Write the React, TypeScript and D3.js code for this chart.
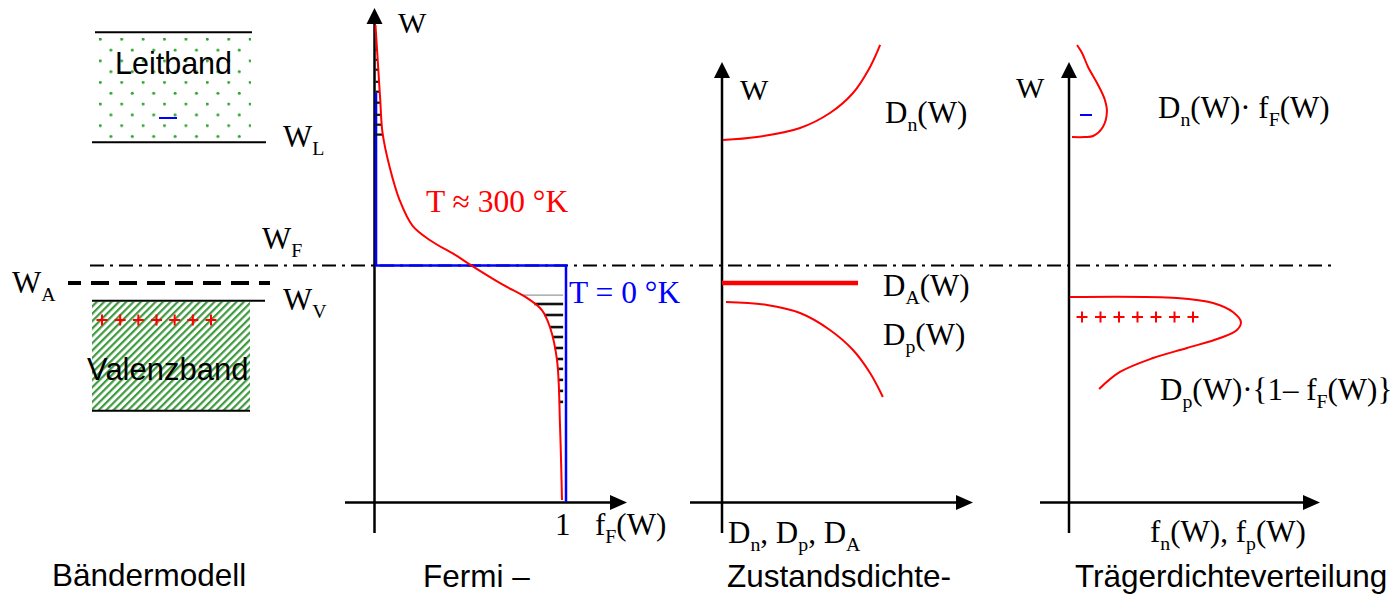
import React from "react";
import * as d3 from "d3";

const SERIF = "'Liberation Serif', 'Times New Roman', serif";
const SANS = "'Liberation Sans', Arial, sans-serif";

// Energy levels (arbitrary units, Fermi level W_F = 0)
const conductionBand = [2.12, 1.12]; // upper drawn edge, W_L
const valenceBand = [-0.32, -1.32]; // W_V, lower drawn edge
const fermiLevel = 0;
const acceptorLevel = -0.16;

// Fermi–Dirac distribution at T ≈ 300 K: [f, W]
const fermi300: [number, number][] = [
  [0.005, 2.186], [0.019, 1.805], [0.03, 1.505], [0.042, 1.205], [0.079, 0.895],
  [0.131, 0.595], [0.199, 0.36], [0.29, 0.23], [0.43, 0.087], [0.497, 0.01],
  [0.665, -0.17], [0.796, -0.295], [0.874, -0.405], [0.916, -0.559],
  [0.953, -0.859], [0.969, -1.468], [0.979, -2.132],
];
// Step function at T = 0 K: [f, W]
const fermi0: [number, number][] = [[0.008, 1.57], [0.008, 0], [1, 0], [1, -2.15]];
// Occupied states above W_F and empty states below W_F (hatching levels)
const electronHatchW = [2.05, 1.96, 1.87, 1.78, 1.67, 1.58, 1.48, 1.37, 1.28, 1.19];
const holeHatchW = [-0.27, -0.35, -0.45, -0.56, -0.65, -0.75, -0.85, -0.94, -1.04, -1.14, -1.24];

// Density of states: [D, W]
const densityN: [number, number][] = [
  [0.4, 1.141], [13.9, 1.168], [31.1, 1.25], [43, 1.386], [52.2, 1.568], [59, 1.805], [63, 2.005],
];
const densityP: [number, number][] = [
  [1.6, -0.332], [17.9, -0.359], [31.1, -0.432], [43, -0.586], [52.2, -0.768], [59, -0.977], [64.1, -1.195],
];
const densityA: [number, number][] = [[0, -0.16], [54.2, -0.16]];

// Carrier distributions: [f, W]
const carriersN: [number, number][] = [
  [1.2, 1.168], [6.4, 1.168], [9.6, 1.177], [13.5, 1.259], [15.1, 1.395], [14.3, 1.505],
  [11.6, 1.641], [7.6, 1.805], [5.2, 1.932], [3.2, 2.005],
];
const carriersP: [number, number][] = [
  [0.4, -0.286], [43, -0.295], [57.4, -0.341], [65.3, -0.423], [68.5, -0.514], [66.9, -0.586],
  [60.2, -0.659], [47, -0.75], [33.5, -0.841], [20.3, -0.968], [12, -1.123],
];

const bottomTitles = ["Bändermodell", "Fermi –", "Zustandsdichte-", "Trägerdichteverteilung"];
const holeCount = 7;

const yW = d3.scaleLinear().domain([-2.5, 2.5]).range([540.5, -9.5]);
const xBand = d3.scaleLinear().domain([0, 1]).range([92, 265]);
const xF = d3.scaleLinear().domain([0, 1]).range([374.5, 566]);
const xD = d3.scaleLinear().domain([0, 100]).range([722, 973]);
const xC = d3.scaleLinear().domain([0, 100]).range([1069, 1320]);

const fOfW = d3.scaleLinear().domain(fermi300.map((d) => d[1])).range(fermi300.map((d) => d[0]));

type Part = [string, boolean?];

function Label({ x, y, parts, size = 31, fill = "#000", family = SERIF }: {
  x: number; y: number; parts: Part[]; size?: number; fill?: string; family?: string;
}) {
  let sub = false;
  return (
    <text x={x} y={y} fontFamily={family} fontSize={size} fill={fill} style={{ whiteSpace: "pre" }}>
      {parts.map(([t, s], i) => {
        let dy = 0;
        if (s && !sub) dy = size * 0.26;
        else if (!s && sub) dy = -size * 0.26;
        sub = !!s;
        return (
          <tspan key={i} dy={dy} fontSize={s ? size * 0.64 : size}>
            {t}
          </tspan>
        );
      })}
    </text>
  );
}

function ArrowUp({ x, y }: { x: number; y: number }) {
  return <path d={`M${x},${y} L${x - 8},${y + 16} L${x + 8},${y + 16} Z`} fill="#000" />;
}
function ArrowRight({ x, y }: { x: number; y: number }) {
  return <path d={`M${x},${y} L${x - 17},${y - 7.5} L${x - 17},${y + 7.5} Z`} fill="#000" />;
}

function Plus({ x, y }: { x: number; y: number }) {
  return <path d={`M${x - 5.5},${y} H${x + 5.5} M${x},${y - 5.5} V${y + 5.5}`} stroke="#f00" strokeWidth={2} />;
}

export default function App() {
  const lineF = d3.line<[number, number]>().x((d) => xF(d[0])).y((d) => yW(d[1])).curve(d3.curveCatmullRom.alpha(0.5));
  const lineF0 = d3.line<[number, number]>().x((d) => xF(d[0])).y((d) => yW(d[1]));
  const lineD = d3.line<[number, number]>().x((d) => xD(d[0])).y((d) => yW(d[1])).curve(d3.curveCatmullRom.alpha(0.5));
  const lineC = d3.line<[number, number]>().x((d) => xC(d[0])).y((d) => yW(d[1])).curve(d3.curveCatmullRom.alpha(0.5));

  const axisY = 502.5;
  const axisBottom = 533;
  const plusBand = d3.scalePoint<number>().domain(d3.range(holeCount)).range([102, 211]);
  const plusCarrier = d3.scalePoint<number>().domain(d3.range(holeCount)).range([1082, 1193]);

  return (
    <svg width={1398} height={595} style={{ position: "absolute", left: 0, top: 0, background: "#fff" }}>
      <defs>
        <pattern id="cbDots" patternUnits="userSpaceOnUse" x={99} y={38} width={21.4} height={21.6}>
          <circle cx={1.2} cy={1.2} r={1.5} fill="#2f9f2f" />
          <circle cx={11.9} cy={12} r={1.5} fill="#2f9f2f" />
        </pattern>
        <pattern id="vbHatch" patternUnits="userSpaceOnUse" width={5.2} height={5.2} patternTransform="rotate(45)">
          <rect x={0} y={0} width={2.2} height={5.2} fill="#3f9a3f" />
        </pattern>
      </defs>

      {/* Band model */}
      <rect x={97} y={yW(conductionBand[0]) + 2} width={154} height={yW(conductionBand[1]) - yW(conductionBand[0]) - 4} fill="url(#cbDots)" />
      <rect x={xBand(0)} y={yW(valenceBand[0]) + 1} width={158} height={yW(valenceBand[1]) - yW(valenceBand[0]) - 1} fill="url(#vbHatch)" />
      <line x1={95} x2={252} y1={yW(conductionBand[0])} y2={yW(conductionBand[0])} stroke="#000" strokeWidth={2} />
      <line x1={92} x2={266} y1={yW(conductionBand[1])} y2={yW(conductionBand[1])} stroke="#000" strokeWidth={2} />
      <line x1={92} x2={265} y1={yW(valenceBand[0])} y2={yW(valenceBand[0])} stroke="#000" strokeWidth={2} />
      <line x1={92} x2={250} y1={yW(valenceBand[1])} y2={yW(valenceBand[1])} stroke="#000" strokeWidth={2} />
      <line x1={68} x2={270} y1={yW(acceptorLevel)} y2={yW(acceptorLevel)} stroke="#000" strokeWidth={4} strokeDasharray="18 10" strokeDashoffset={5} />
      <text x={115} y={74} fontFamily={SANS} fontSize={30.5} fill="#000">Leitband</text>
      <line x1={159} x2={177} y1={118} y2={118} stroke="#00f" strokeWidth={2} />
      {d3.range(holeCount).map((i) => (
        <Plus key={i} x={plusBand(i)!} y={320} />
      ))}
      <text x={87} y={380} fontFamily={SANS} fontSize={31} fill="#000">Valenzband</text>
      <Label x={283} y={147} parts={[["W"], ["L", true]]} />
      <Label x={262} y={249} parts={[["W"], ["F", true]]} />
      <Label x={12} y={293} parts={[["W"], ["A", true]]} />
      <Label x={283} y={310} parts={[["W"], ["V", true]]} />

      {/* Fermi level across all panels */}
      <line x1={90} x2={1336} y1={yW(fermiLevel)} y2={yW(fermiLevel)} stroke="#000" strokeWidth={2} strokeDasharray="14 6 3 6" />

      {/* Fermi distribution */}
      <line x1={xF(0)} x2={xF(0)} y1={axisBottom} y2={20} stroke="#000" strokeWidth={2.5} />
      <ArrowUp x={xF(0)} y={8} />
      <line x1={345} x2={612} y1={axisY} y2={axisY} stroke="#000" strokeWidth={2.5} />
      <ArrowRight x={627} y={axisY} />
      <path d={lineF0(fermi0)!} fill="none" stroke="#00f" strokeWidth={2.5} />
      {electronHatchW.map((w, i) => (
        <line key={"e" + i} x1={xF(0.006)} x2={xF(fOfW(w))} y1={yW(w)} y2={yW(w)} stroke="#111" strokeWidth={2.2} />
      ))}
      {holeHatchW.map((w, i) => (
        <line key={"h" + i} x1={xF(fOfW(w))} x2={xF(0.985)} y1={yW(w)} y2={yW(w)} stroke={i === 0 ? "#999" : "#111"} strokeWidth={i === 0 ? 1.2 : 2.6} />
      ))}
      <path d={lineF(fermi300)!} fill="none" stroke="#f00" strokeWidth={2} />
      <Label x={398} y={33} parts={[["W"]]} size={30} />
      <Label x={426} y={212} parts={[["T ≈ 300 °K"]]} fill="#f00" size={31.5} />
      <Label x={569} y={303} parts={[["T = 0 °K"]]} fill="#00f" size={31.5} />
      <Label x={555} y={535} parts={[["1"]]} />
      <Label x={595} y={535} parts={[["f"], ["F", true], ["(W)"]]} />

      {/* Density of states */}
      <line x1={xD(0)} x2={xD(0)} y1={axisBottom} y2={72} stroke="#000" strokeWidth={2.5} />
      <ArrowUp x={xD(0)} y={62} />
      <line x1={690} x2={958} y1={axisY} y2={axisY} stroke="#000" strokeWidth={2.5} />
      <ArrowRight x={973} y={axisY} />
      <path d={lineD(densityN)!} fill="none" stroke="#f00" strokeWidth={2} />
      <path d={lineD(densityP)!} fill="none" stroke="#f00" strokeWidth={2} />
      <path d={d3.line<[number, number]>().x((d) => xD(d[0])).y((d) => yW(d[1]))(densityA)!} fill="none" stroke="#f00" strokeWidth={4.5} />
      <Label x={740} y={100} parts={[["W"]]} size={30} />
      <Label x={885} y={123} parts={[["D"], ["n", true], ["(W)"]]} />
      <Label x={883} y={296} parts={[["D"], ["A", true], ["(W)"]]} />
      <Label x={883} y={345} parts={[["D"], ["p", true], ["(W)"]]} />
      <Label x={728} y={543} parts={[["D"], ["n", true], [", D"], ["p", true], [", D"], ["A", true]]} />

      {/* Carrier density */}
      <line x1={xC(0)} x2={xC(0)} y1={axisBottom} y2={72} stroke="#000" strokeWidth={2.5} />
      <ArrowUp x={xC(0)} y={62} />
      <line x1={1040} x2={1305} y1={axisY} y2={axisY} stroke="#000" strokeWidth={2.5} />
      <ArrowRight x={1320} y={axisY} />
      <path d={lineC(carriersN)!} fill="none" stroke="#f00" strokeWidth={2} />
      <path d={lineC(carriersP)!} fill="none" stroke="#f00" strokeWidth={2} />
      <line x1={1080} x2={1092} y1={115} y2={115} stroke="#00f" strokeWidth={2} />
      {d3.range(holeCount).map((i) => (
        <Plus key={i} x={plusCarrier(i)!} y={317} />
      ))}
      <Label x={1016} y={98} parts={[["W"]]} size={30} />
      <Label x={1158} y={118} parts={[["D"], ["n", true], ["(W)· f"], ["F", true], ["(W)"]]} />
      <Label x={1160} y={400} parts={[["D"], ["p", true], ["(W)·{1– f"], ["F", true], ["(W)}"]]} />
      <Label x={1150} y={542} parts={[["f"], ["n", true], ["(W), f"], ["p", true], ["(W)"]]} />

      {/* Panel titles */}
      <text x={52} y={586} fontFamily={SANS} fontSize={31.5} fill="#000">{bottomTitles[0]}</text>
      <text x={423} y={587} fontFamily={SANS} fontSize={31.5} fill="#000">{bottomTitles[1]}</text>
      <text x={727} y={587} fontFamily={SANS} fontSize={31.5} fill="#000">{bottomTitles[2]}</text>
      <text x={1075} y={587} fontFamily={SANS} fontSize={31.5} fill="#000">{bottomTitles[3]}</text>
    </svg>
  );
}
